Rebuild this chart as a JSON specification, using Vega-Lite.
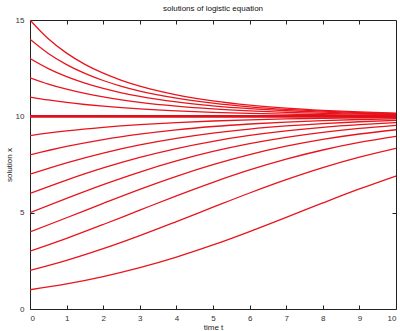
{
  "$schema": "https://vega.github.io/schema/vega-lite/v6.json",
  "autosize": "none",
  "width": 366,
  "height": 289,
  "padding": {"left": 30, "top": 20, "right": 4, "bottom": 22},
  "background": "white",
  "title": {"text": "solutions of logistic equation", "fontSize": 8, "font": "Liberation Sans", "fontWeight": "normal", "color": "#111", "offset": 3, "anchor": "middle"},
  "config": {
    "view": {"stroke": "#222", "strokeWidth": 1},
    "axis": {"labelFont": "Liberation Sans", "titleFont": "Liberation Sans", "labelFontSize": 8, "titleFontSize": 8, "titleFontWeight": "normal", "labelColor": "#333", "titleColor": "#222", "domain": false, "tickColor": "#222", "tickWidth": 1, "grid": false, "labelOverlap": false}
  },
  "datasets": {
    "sol": [
      {"x0":1,"t":0,"x":1},{"x0":1,"t":1,"x":1.304},{"x0":1,"t":2,"x":1.684},{"x0":1,"t":3,"x":2.146},{"x0":1,"t":4,"x":2.695},{"x0":1,"t":5,"x":3.324},{"x0":1,"t":6,"x":4.020},{"x0":1,"t":7,"x":4.757},{"x0":1,"t":8,"x":5.505},{"x0":1,"t":9,"x":6.231},{"x0":1,"t":10,"x":6.906},
      {"x0":2,"t":0,"x":2},{"x0":2,"t":1,"x":2.523},{"x0":2,"t":2,"x":3.130},{"x0":2,"t":3,"x":3.808},{"x0":2,"t":4,"x":4.536},{"x0":2,"t":5,"x":5.284},{"x0":2,"t":6,"x":6.020},{"x0":2,"t":7,"x":6.712},{"x0":2,"t":8,"x":7.337},{"x0":2,"t":9,"x":7.881},{"x0":2,"t":10,"x":8.340},
      {"x0":3,"t":0,"x":3},{"x0":3,"t":1,"x":3.665},{"x0":3,"t":2,"x":4.385},{"x0":3,"t":3,"x":5.132},{"x0":3,"t":4,"x":5.873},{"x0":3,"t":5,"x":6.576},{"x0":3,"t":6,"x":7.217},{"x0":3,"t":7,"x":7.778},{"x0":3,"t":8,"x":8.253},{"x0":3,"t":9,"x":8.644},{"x0":3,"t":10,"x":8.959},
      {"x0":4,"t":0,"x":4},{"x0":4,"t":1,"x":4.737},{"x0":4,"t":2,"x":5.485},{"x0":4,"t":3,"x":6.212},{"x0":4,"t":4,"x":6.888},{"x0":4,"t":5,"x":7.492},{"x0":4,"t":6,"x":8.013},{"x0":4,"t":7,"x":8.448},{"x0":4,"t":8,"x":8.802},{"x0":4,"t":9,"x":9.084},{"x0":4,"t":10,"x":9.305},
      {"x0":5,"t":0,"x":5},{"x0":5,"t":1,"x":5.744},{"x0":5,"t":2,"x":6.457},{"x0":5,"t":3,"x":7.110},{"x0":5,"t":4,"x":7.685},{"x0":5,"t":5,"x":8.176},{"x0":5,"t":6,"x":8.581},{"x0":5,"t":7,"x":8.909},{"x0":5,"t":8,"x":9.168},{"x0":5,"t":9,"x":9.370},{"x0":5,"t":10,"x":9.526},
      {"x0":6,"t":0,"x":6},{"x0":6,"t":1,"x":6.694},{"x0":6,"t":2,"x":7.321},{"x0":6,"t":3,"x":7.868},{"x0":6,"t":4,"x":8.328},{"x0":6,"t":5,"x":8.705},{"x0":6,"t":6,"x":9.007},{"x0":6,"t":7,"x":9.245},{"x0":6,"t":8,"x":9.430},{"x0":6,"t":9,"x":9.571},{"x0":6,"t":10,"x":9.679},
      {"x0":7,"t":0,"x":7},{"x0":7,"t":1,"x":7.590},{"x0":7,"t":2,"x":8.096},{"x0":7,"t":3,"x":8.516},{"x0":7,"t":4,"x":8.857},{"x0":7,"t":5,"x":9.127},{"x0":7,"t":6,"x":9.338},{"x0":7,"t":7,"x":9.501},{"x0":7,"t":8,"x":9.626},{"x0":7,"t":9,"x":9.720},{"x0":7,"t":10,"x":9.791},
      {"x0":8,"t":0,"x":8},{"x0":8,"t":1,"x":8.437},{"x0":8,"t":2,"x":8.794},{"x0":8,"t":3,"x":9.077},{"x0":8,"t":4,"x":9.300},{"x0":8,"t":5,"x":9.472},{"x0":8,"t":6,"x":9.603},{"x0":8,"t":7,"x":9.703},{"x0":8,"t":8,"x":9.778},{"x0":8,"t":9,"x":9.835},{"x0":8,"t":10,"x":9.877},
      {"x0":9,"t":0,"x":9},{"x0":9,"t":1,"x":9.240},{"x0":9,"t":2,"x":9.425},{"x0":9,"t":3,"x":9.568},{"x0":9,"t":4,"x":9.676},{"x0":9,"t":5,"x":9.758},{"x0":9,"t":6,"x":9.820},{"x0":9,"t":7,"x":9.866},{"x0":9,"t":8,"x":9.900},{"x0":9,"t":9,"x":9.926},{"x0":9,"t":10,"x":9.945},
      {"x0":11,"t":0,"x":11},{"x0":11,"t":0.5,"x":10.849},{"x0":11,"t":1,"x":10.722},{"x0":11,"t":1.5,"x":10.615},{"x0":11,"t":2,"x":10.525},{"x0":11,"t":2.5,"x":10.449},{"x0":11,"t":3,"x":10.384},{"x0":11,"t":4,"x":10.282},{"x0":11,"t":5,"x":10.207},{"x0":11,"t":6,"x":10.153},{"x0":11,"t":7,"x":10.113},{"x0":11,"t":8,"x":10.083},{"x0":11,"t":9,"x":10.061},{"x0":11,"t":10,"x":10.046},
      {"x0":12,"t":0,"x":12},{"x0":12,"t":0.5,"x":11.675},{"x0":12,"t":1,"x":11.409},{"x0":12,"t":1.5,"x":11.189},{"x0":12,"t":2,"x":11.007},{"x0":12,"t":2.5,"x":10.855},{"x0":12,"t":3,"x":10.727},{"x0":12,"t":4,"x":10.529},{"x0":12,"t":5,"x":10.386},{"x0":12,"t":6,"x":10.283},{"x0":12,"t":7,"x":10.208},{"x0":12,"t":8,"x":10.154},{"x0":12,"t":9,"x":10.113},{"x0":12,"t":10,"x":10.084},
      {"x0":13,"t":0,"x":13},{"x0":13,"t":0.5,"x":12.479},{"x0":13,"t":1,"x":12.062},{"x0":13,"t":1.5,"x":11.725},{"x0":13,"t":2,"x":11.450},{"x0":13,"t":2.5,"x":11.223},{"x0":13,"t":3,"x":11.035},{"x0":13,"t":4,"x":10.747},{"x0":13,"t":5,"x":10.543},{"x0":13,"t":6,"x":10.397},{"x0":13,"t":7,"x":10.291},{"x0":13,"t":8,"x":10.214},{"x0":13,"t":9,"x":10.158},{"x0":13,"t":10,"x":10.116},
      {"x0":14,"t":0,"x":14},{"x0":14,"t":0.5,"x":13.261},{"x0":14,"t":1,"x":12.685},{"x0":14,"t":1.5,"x":12.228},{"x0":14,"t":2,"x":11.860},{"x0":14,"t":2.5,"x":11.560},{"x0":14,"t":3,"x":11.314},{"x0":14,"t":4,"x":10.942},{"x0":14,"t":5,"x":10.681},{"x0":14,"t":6,"x":10.496},{"x0":14,"t":7,"x":10.363},{"x0":14,"t":8,"x":10.266},{"x0":14,"t":9,"x":10.196},{"x0":14,"t":10,"x":10.144},
      {"x0":15,"t":0,"x":15},{"x0":15,"t":0.5,"x":14.023},{"x0":15,"t":1,"x":13.279},{"x0":15,"t":1.5,"x":12.699},{"x0":15,"t":2,"x":12.239},{"x0":15,"t":2.5,"x":11.869},{"x0":15,"t":3,"x":11.568},{"x0":15,"t":4,"x":11.116},{"x0":15,"t":5,"x":10.804},{"x0":15,"t":6,"x":10.583},{"x0":15,"t":7,"x":10.426},{"x0":15,"t":8,"x":10.312},{"x0":15,"t":9,"x":10.229},{"x0":15,"t":10,"x":10.169}
    ],
    "eq": [{"x0":10,"t":0,"x":10},{"x0":10,"t":10,"x":10}]
  },
  "layer": [
    {
      "data": {"name": "sol"},
      "mark": {"type": "line", "interpolate": "monotone", "color": "#e8141c", "strokeWidth": 1.3, "clip": true},
      "encoding": {
        "x": {"field": "t", "type": "quantitative", "scale": {"domain": [0, 10], "nice": false},
              "axis": {"orient": "bottom", "title": "time t", "values": [0,1,2,3,4,5,6,7,8,9,10], "labelOverlap": false, "tickSize": 4, "offset": -4, "labelPadding": 5, "titlePadding": 1}},
        "y": {"field": "x", "type": "quantitative", "scale": {"domain": [0, 15], "nice": false},
              "axis": {"orient": "left", "title": "solution x", "values": [0,5,10,15], "labelOverlap": false, "tickSize": 4, "offset": -4, "labelPadding": 6, "titlePadding": 2}},
        "detail": {"field": "x0", "type": "nominal"}
      }
    },
    {
      "data": {"name": "eq"},
      "mark": {"type": "line", "color": "#e0101a", "strokeWidth": 2.6},
      "encoding": {
        "x": {"field": "t", "type": "quantitative",
              "axis": {"orient": "top", "title": null, "values": [1,2,3,4,5,6,7,8,9], "labels": false, "tickSize": 4, "offset": -4}},
        "y": {"field": "x", "type": "quantitative",
              "axis": {"orient": "right", "title": null, "values": [5,10], "labels": false, "tickSize": 4, "offset": -4}}
      }
    }
  ]
}
